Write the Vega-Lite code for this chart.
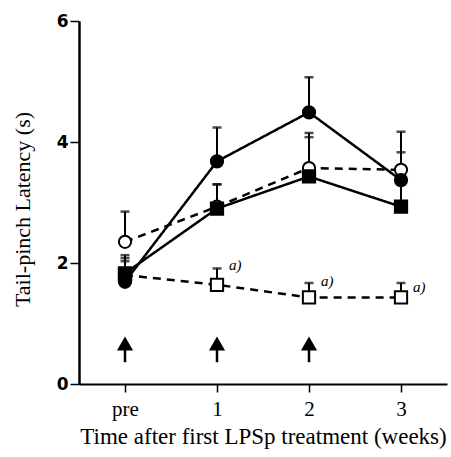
{
  "$schema": "https://vega.github.io/schema/vega-lite/v6.json",
  "autosize": "none",
  "width": 368,
  "height": 363,
  "padding": {"left": 79, "top": 21, "right": 4, "bottom": 73},
  "background": "white",
  "config": {"view": {"stroke": null}},
  "datasets": {
    "main": [
      {"t": "pre", "s": "os", "v": 1.80, "hi": 2.13},
      {"t": "1", "s": "os", "v": 1.64, "hi": 1.91},
      {"t": "2", "s": "os", "v": 1.43, "hi": 1.67},
      {"t": "3", "s": "os", "v": 1.43, "hi": 1.67},
      {"t": "pre", "s": "oc", "v": 2.35, "hi": 2.85},
      {"t": "1", "s": "oc", "v": 2.93, "hi": 3.30},
      {"t": "2", "s": "oc", "v": 3.57, "hi": 4.15},
      {"t": "3", "s": "oc", "v": 3.54, "hi": 4.17},
      {"t": "pre", "s": "fs", "v": 1.83, "hi": 2.08},
      {"t": "1", "s": "fs", "v": 2.90, "hi": 3.30},
      {"t": "2", "s": "fs", "v": 3.43, "hi": 4.08},
      {"t": "3", "s": "fs", "v": 2.93, "hi": 3.30},
      {"t": "pre", "s": "fc", "v": 1.69, "hi": 2.03},
      {"t": "1", "s": "fc", "v": 3.68, "hi": 4.24},
      {"t": "2", "s": "fc", "v": 4.49, "hi": 5.07},
      {"t": "3", "s": "fc", "v": 3.37, "hi": 3.83}
    ],
    "arrows": [{"t": "pre"}, {"t": "1"}, {"t": "2"}],
    "notes": [
      {"t": "1", "v": 1.97, "label": "a)"},
      {"t": "2", "v": 1.70, "label": "a)"},
      {"t": "3", "v": 1.60, "label": "a)"}
    ]
  },
  "encoding": {
    "x": {
      "field": "t", "type": "ordinal", "sort": ["pre", "1", "2", "3"],
      "scale": {"type": "point", "domain": ["pre", "1", "2", "3"], "padding": 0.5},
      "axis": {
        "title": "Time after first LPSp treatment (weeks)",
        "labelAngle": 0, "grid": false,
        "domainColor": "black", "domainWidth": 2,
        "tickColor": "black", "tickWidth": 1.5, "tickSize": 8,
        "labelFont": "Liberation Serif", "labelFontSize": 21, "labelColor": "black", "labelPadding": 6,
        "titleFont": "Liberation Serif", "titleFontSize": 23, "titleFontWeight": "normal", "titleColor": "black", "titlePadding": 6
      }
    }
  },
  "layer": [
    {
      "data": {"name": "main"},
      "mark": {"type": "line", "color": "black", "strokeWidth": 2.5},
      "encoding": {
        "y": {
          "field": "v", "type": "quantitative",
          "scale": {"domain": [0, 6], "nice": false, "zero": true},
          "axis": {
            "title": "Tail-pinch Latency (s)", "values": [0, 2, 4, 6], "format": "d", "grid": false,
            "domainColor": "black", "domainWidth": 2.5,
            "tickColor": "black", "tickWidth": 1.5, "tickSize": 9,
            "labelFont": "DejaVu Sans", "labelFontWeight": "bold", "labelFontSize": 17, "labelColor": "black", "labelPadding": 2,
            "titleFont": "Liberation Serif", "titleFontSize": 22, "titleFontWeight": "normal", "titleColor": "black", "titlePadding": 22,
            "titleY": 188
          }
        },
        "detail": {"field": "s"},
        "strokeDash": {
          "field": "s", "type": "nominal",
          "scale": {"domain": ["fc", "fs", "oc", "os"], "range": [[1, 0], [1, 0], [8, 6], [8, 6]]},
          "legend": null
        },
        "strokeWidth": {
          "field": "s", "type": "nominal",
          "scale": {"domain": ["fc", "fs", "oc", "os"], "range": [2.8, 2.8, 2.2, 2.2]},
          "legend": null
        }
      }
    },
    {
      "data": {"name": "main"},
      "mark": {"type": "rule", "color": "black", "strokeWidth": 2},
      "encoding": {
        "y": {"field": "v", "type": "quantitative"},
        "y2": {"field": "hi"}
      }
    },
    {
      "data": {"name": "main"},
      "mark": {"type": "tick", "color": "black", "size": 9, "thickness": 2.5, "orient": "horizontal"},
      "encoding": {
        "y": {"field": "hi", "type": "quantitative"}
      }
    },
    {
      "data": {"name": "main"},
      "mark": {"type": "point", "filled": false, "stroke": "black", "strokeWidth": 2, "opacity": 1},
      "encoding": {
        "y": {"field": "v", "type": "quantitative"},
        "shape": {
          "field": "s", "type": "nominal",
          "scale": {"domain": ["fc", "fs", "oc", "os"], "range": ["circle", "square", "circle", "square"]},
          "legend": null
        },
        "fill": {
          "field": "s", "type": "nominal",
          "scale": {"domain": ["fc", "fs", "oc", "os"], "range": ["black", "black", "white", "white"]},
          "legend": null
        },
        "size": {
          "field": "s", "type": "nominal",
          "scale": {"domain": ["fc", "fs", "oc", "os"], "range": [150, 150, 140, 90]},
          "legend": null
        }
      }
    },
    {
      "data": {"name": "arrows"},
      "mark": {"type": "rule", "color": "black", "strokeWidth": 2.5},
      "encoding": {
        "y": {"datum": 0.36},
        "y2": {"datum": 0.6}
      }
    },
    {
      "data": {"name": "arrows"},
      "mark": {"type": "point", "shape": "triangle-up", "filled": true, "color": "black", "size": 260, "opacity": 1},
      "encoding": {
        "y": {"datum": 0.67}
      }
    },
    {
      "data": {"name": "notes"},
      "mark": {"type": "text", "align": "left", "baseline": "middle", "dx": 12, "font": "Liberation Serif", "fontStyle": "italic", "fontSize": 15, "color": "black"},
      "encoding": {
        "y": {"field": "v", "type": "quantitative"},
        "text": {"field": "label"}
      }
    }
  ]
}
